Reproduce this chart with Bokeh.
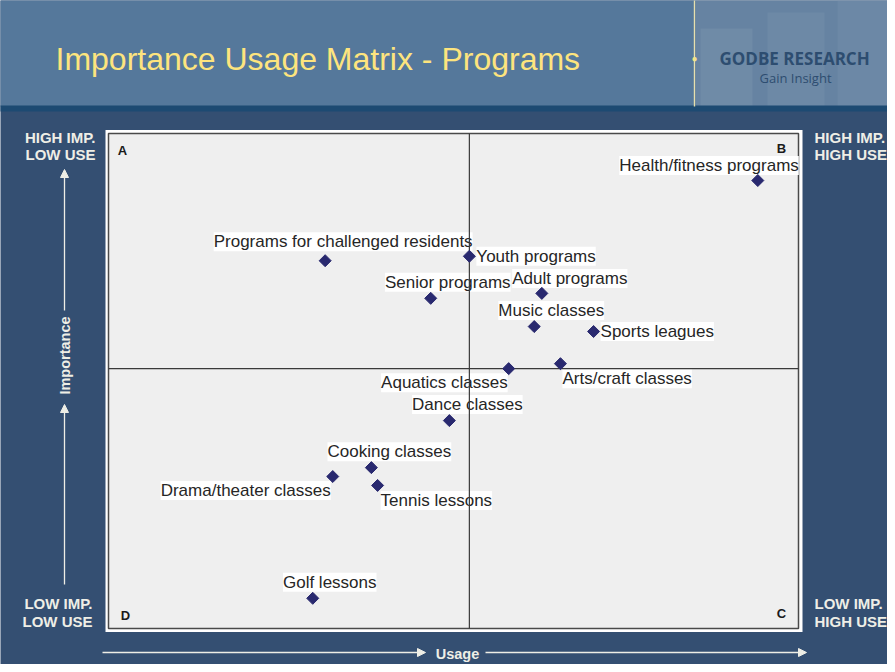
import numpy as np
from bokeh.plotting import figure
from bokeh.models import Label, BoxAnnotation, Arrow, NormalHead, Range1d
from bokeh.embed import file_html
from bokeh.resources import INLINE

# ---------------- data ----------------
programs = ["Health/fitness programs", "Programs for challenged residents", "Youth programs",
            "Senior programs", "Adult programs", "Music classes", "Sports leagues",
            "Aquatics classes", "Arts/craft classes", "Dance classes", "Cooking classes",
            "Drama/theater classes", "Tennis lessons", "Golf lessons"]
usage = [94.1, 31.4, 52.3, 46.7, 62.8, 61.7, 70.3, 58.0, 65.5, 49.4, 38.1, 32.5, 39.0, 29.6]
importance = [90.5, 74.3, 75.2, 66.7, 67.7, 61.0, 60.0, 52.5, 53.5, 42.0, 32.5, 30.7, 28.9, 6.1]
usage_mid = 52.3
importance_mid = 52.5
usage_lim = [0.0, 100.0]
importance_lim = [0.0, 100.0]

quadrant_letters = ["A", "B", "C", "D"]
title_text = "Importance Usage Matrix - Programs"

# ---------------- layout ----------------
W, H = 887, 664
# plot area position in reference-image pixels
PL, PR, PT, PB = 116, 806, 141, 636
X0, X1 = usage_lim
Y0, Y1 = importance_lim

def dx(X):  # reference image x -> data
    return X0 + (X - PL) / (PR - PL) * (X1 - X0)

def dy(Y):  # reference image y -> data
    return Y0 + (PB - Y) / (PB - PT) * (Y1 - Y0)

# label placement: (align, x_offset px, y_offset px up)
label_place = {
    "Health/fitness programs": ("right", 41, 15),
    "Programs for challenged residents": ("center", 18, 19),
    "Youth programs": ("left", 7, 0),
    "Senior programs": ("center", 17, 16),
    "Adult programs": ("center", 28, 15),
    "Music classes": ("center", 17, 16),
    "Sports leagues": ("left", 7, 0),
    "Aquatics classes": ("right", -1, -14),
    "Arts/craft classes": ("left", 2, -15),
    "Dance classes": ("center", 18, 16),
    "Cooking classes": ("center", 18, 16),
    "Drama/theater classes": ("right", -2, -14),
    "Tennis lessons": ("left", 3, -15),
    "Golf lessons": ("center", 17, 16),
}

BODY = "#344f72"
LIGHT = "#eeeee6"
FONT = "Liberation Sans"

p = figure(width=W, height=H, output_backend="svg", toolbar_location=None,
           x_range=Range1d(dx(8), dx(8 + W)), y_range=Range1d(dy(8 + H), dy(8)),
           min_border=0, x_axis_location=None, y_axis_location=None)
p.grid.visible = False
p.border_fill_color = BODY
p.background_fill_color = BODY
p.outline_line_color = None

def box(x1, y1, x2, y2, color, alpha=1.0, line_color=None, line_width=1):
    p.add_layout(BoxAnnotation(left=dx(x1), right=dx(x2), top=dy(y1), bottom=dy(y2),
                               fill_color=color, fill_alpha=alpha, line_color=line_color,
                               line_alpha=1.0, line_width=line_width, level="underlay"))

# header
box(0, 0, 703, 114, "#55789b")
box(703, 0, 900, 114, "#6683a2")
box(708, 36, 760, 114, "#7a94ae", alpha=0.45)
box(775, 20, 832, 114, "#7a94ae", alpha=0.35)
box(845, 0, 900, 114, "#7c96b0", alpha=0.3)
box(0, 113, 900, 119, "#1d4a72")
box(701.3, 0, 702.7, 114, "#e6dfae")

# plot area
box(113, 137.5, 810, 639.5, "white")
p.add_layout(BoxAnnotation(left=X0, right=X1, bottom=Y0, top=Y1, fill_color="#efefef",
                           fill_alpha=1.0, line_color="#4a4a4a", line_alpha=1.0,
                           line_width=1.5, level="underlay"))

def lab(text, X, Y, size, color, bold=False, align="left", angle=0.0, font=FONT):
    p.add_layout(Label(x=dx(X), y=dy(Y), text=text, text_font=font,
                       text_font_size=f"{size}px", text_color=color,
                       text_font_style="bold" if bold else "normal",
                       text_align=align, text_baseline="middle", angle=angle))

lab("\u25cf", 702, 66, 10, "#f2e48a", align="center")
lab(title_text, 63, 66, 32, "#fde47e")
lab("GODBE RESEARCH", 727, 66, 17, "#2d4d70", bold=True, font="Open Sans")
lab("Gain Insight", 803, 85, 13, "#2d4d70", align="center", font="Open Sans")

# corner texts
lab("HIGH IMP.", 103, 145, 15, LIGHT, True, "right")
lab("LOW USE", 103, 162, 15, LIGHT, True, "right")
lab("LOW IMP.", 100, 611, 15, LIGHT, True, "right")
lab("LOW USE", 100, 629, 15, LIGHT, True, "right")
lab("HIGH IMP.", 822, 145, 15, LIGHT, True, "left")
lab("HIGH USE", 822, 162, 15, LIGHT, True, "left")
lab("LOW IMP.", 822, 611, 15, LIGHT, True, "left")
lab("HIGH USE", 822, 629, 15, LIGHT, True, "left")

# quadrant letters
for letter, (X, Y) in zip(quadrant_letters, [(130, 158), (789, 156), (789, 621), (133, 623)]):
    lab(letter, X, Y, 13, "#1a1a1a", True, "center")

# axis arrows
def arrow(x1, y1, x2, y2):
    p.add_layout(Arrow(end=NormalHead(size=8, fill_color=LIGHT, line_color=LIGHT),
                       x_start=dx(x1), y_start=dy(y1), x_end=dx(x2), y_end=dy(y2),
                       line_color=LIGHT, line_width=1.3))

arrow(72, 592, 72, 412)
arrow(72, 318, 72, 177)
arrow(110, 660, 433, 660)
arrow(493, 660, 814, 660)
lab("Importance", 72, 363, 14.5, LIGHT, True, "center", angle=np.pi / 2)
lab("Usage", 465, 661, 14.5, LIGHT, True, "center")

# data labels (under the crosshair lines)
for name, u, imp in zip(programs, usage, importance):
    align, xo, yo = label_place[name]
    p.add_layout(Label(x=u, y=imp, text=name, text_font=FONT, text_font_size="17px",
                       text_color="#262626", text_align=align, text_baseline="middle",
                       x_offset=xo, y_offset=yo, background_fill_color="white",
                       level="underlay"))

# crosshair
p.segment(x0=[usage_mid, X0], y0=[Y0, importance_mid], x1=[usage_mid, X1],
          y1=[Y1, importance_mid], line_color="#3a3a3a", line_width=1.2)

p.scatter(usage, importance, marker="square", angle=np.pi / 4, size=8.5,
          fill_color="#29296f", line_color="#29296f")

open("out.html", "w").write(file_html(p, INLINE))
